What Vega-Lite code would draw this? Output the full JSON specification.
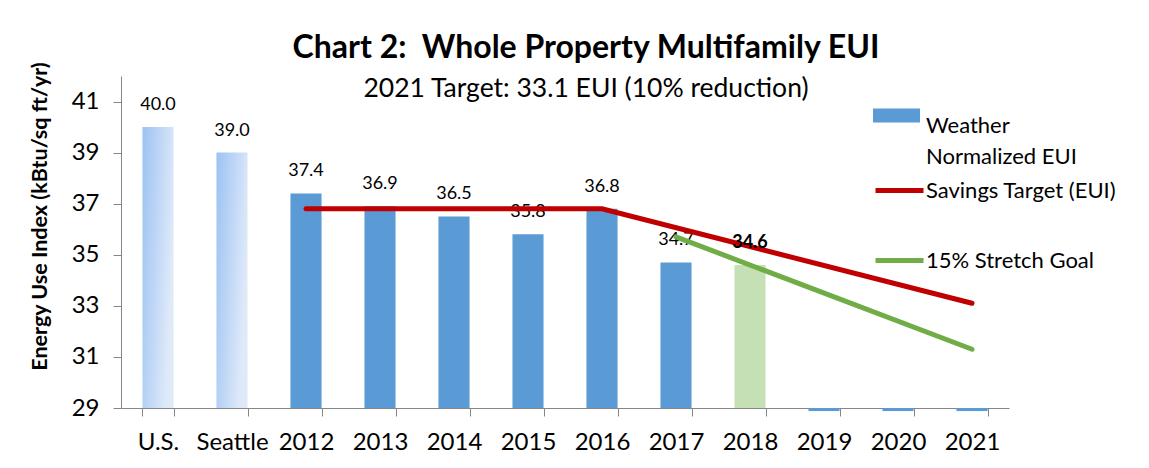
{
  "$schema": "https://vega.github.io/schema/vega-lite/v6.json",
  "autosize": {"type": "none"},
  "width": 888,
  "height": 332,
  "padding": {"left": 121, "top": 76, "right": 140, "bottom": 60},
  "background": "white",
  "title": {
    "text": "Chart 2:\u00a0 Whole Property Multifamily EUI",
    "subtitle": "2021 Target: 33.1 EUI (10% reduction)",
    "anchor": "middle",
    "dx": 21,
    "offset": -42,
    "font": "Lato",
    "fontSize": 32,
    "fontWeight": "bold",
    "color": "#000000",
    "subtitleFont": "Lato",
    "subtitleFontSize": 26.5,
    "subtitleColor": "#000000",
    "subtitlePadding": 11
  },
  "datasets": {
    "bars": [
      {"cat": "U.S.", "eui": 40.0, "kind": "bench"},
      {"cat": "Seattle", "eui": 39.0, "kind": "bench"},
      {"cat": "2012", "eui": 37.4, "kind": "year"},
      {"cat": "2013", "eui": 36.9, "kind": "year"},
      {"cat": "2014", "eui": 36.5, "kind": "year"},
      {"cat": "2015", "eui": 35.8, "kind": "year"},
      {"cat": "2016", "eui": 36.8, "kind": "year"},
      {"cat": "2017", "eui": 34.7, "kind": "year"},
      {"cat": "2018", "eui": 34.6, "kind": "latest"},
      {"cat": "2019", "eui": 28.88, "kind": "blank"},
      {"cat": "2020", "eui": 28.88, "kind": "blank"},
      {"cat": "2021", "eui": 28.88, "kind": "blank"}
    ],
    "lines": [
      {"cat": "2012", "v": 36.8, "series": "Savings Target (EUI)"},
      {"cat": "2016", "v": 36.8, "series": "Savings Target (EUI)"},
      {"cat": "2021", "v": 33.1, "series": "Savings Target (EUI)"},
      {"cat": "2017", "v": 35.7, "series": "15% Stretch Goal"},
      {"cat": "2021", "v": 31.3, "series": "15% Stretch Goal"}
    ]
  },
  "encoding": {
    "x": {
      "field": "cat",
      "type": "nominal",
      "sort": null,
      "scale": {"domain": ["U.S.", "Seattle", "2012", "2013", "2014", "2015", "2016", "2017", "2018", "2019", "2020", "2021"], "paddingInner": 0.58, "paddingOuter": 0.29},
      "axis": {
        "title": null,
        "labelAngle": 0,
        "labelFont": "Lato",
        "labelFontSize": 24,
        "labelColor": "#000000",
        "labelPadding": 14,
        "tickBand": "extent",
        "tickSize": 8,
        "tickColor": "#868686",
        "domainColor": "#868686",
        "grid": false
      }
    }
  },
  "layer": [
    {
      "data": {"name": "bars"},
      "transform": [{"filter": "datum.kind == 'bench'"}],
      "mark": {
        "type": "bar",
        "fill": {"gradient": "linear", "x1": 0, "y1": 0, "x2": 1, "y2": 0.4, "stops": [{"offset": 0, "color": "#9CC2F3"}, {"offset": 1, "color": "#DFEAF9"}]}
      },
      "encoding": {
        "y": {
          "field": "eui",
          "type": "quantitative",
          "scale": {"domain": [29, 42], "zero": false, "nice": false},
          "axis": {
            "title": "Energy Use Index (kBtu/sq ft/yr)",
            "titleFont": "Lato",
            "titleFontSize": 21.5,
            "titleFontWeight": "bold",
            "titleColor": "#000000",
            "titleX": -81,
            "titleY": 140,
            "titleAngle": -90,
            "titleAlign": "center",
            "titleBaseline": "middle",
            "values": [29, 31, 33, 35, 37, 39, 41],
            "labelFont": "Lato",
            "labelFontSize": 24,
            "labelColor": "#000000",
            "labelPadding": 14,
            "tickSize": 8,
            "tickColor": "#868686",
            "domainColor": "#868686",
            "grid": false
          }
        },
        "y2": {"datum": 29}
      }
    },
    {
      "data": {"name": "bars"},
      "transform": [{"filter": "datum.kind == 'year' || datum.kind == 'blank'"}],
      "mark": {"type": "bar"},
      "encoding": {
        "y": {"field": "eui", "type": "quantitative"},
        "y2": {"datum": 29},
        "fill": {
          "datum": "Weather Normalized EUI",
          "type": "nominal",
          "scale": {"range": ["#5B9BD5"]},
          "legend": {
            "orient": "none",
            "legendX": 752,
            "legendY": 16,
            "title": null,
            "symbolType": "M-1,-0.3H1V0.3H-1Z",
            "symbolSize": 2209,
            "symbolStrokeWidth": 0,
            "labelFont": "Lato",
            "labelFontSize": 22,
            "labelColor": "#000000",
            "labelBaseline": "top",
            "labelOffset": 6,
            "labelLimit": 300,
            "labelExpr": "datum.label == 'Weather Normalized EUI' ? ['Weather', 'Normalized EUI'] : datum.label"
          }
        }
      }
    },
    {
      "data": {"name": "bars"},
      "transform": [{"filter": "datum.kind == 'latest'"}],
      "mark": {"type": "bar", "color": "#C5E0B4"},
      "encoding": {
        "y": {"field": "eui", "type": "quantitative"},
        "y2": {"datum": 29}
      }
    },
    {
      "data": {"name": "bars"},
      "transform": [{"filter": "datum.kind == 'bench' || datum.kind == 'year'"}],
      "mark": {"type": "text", "font": "Lato", "fontSize": 18, "color": "#000000", "dy": -22, "baseline": "middle"},
      "encoding": {
        "y": {"field": "eui", "type": "quantitative"},
        "text": {"field": "eui", "type": "quantitative", "format": ".1f"}
      }
    },
    {
      "data": {"name": "lines"},
      "mark": {"type": "line", "strokeWidth": 5, "strokeCap": "round"},
      "encoding": {
        "y": {"field": "v", "type": "quantitative"},
        "stroke": {
          "field": "series",
          "type": "nominal",
          "scale": {"domain": ["Savings Target (EUI)", "15% Stretch Goal"], "range": ["#C00000", "#70AD47"]},
          "legend": {
            "orient": "none",
            "legendX": 752,
            "legendY": 88,
            "title": null,
            "symbolType": "stroke",
            "symbolSize": 2304,
            "symbolStrokeWidth": 5,
            "rowPadding": 32,
            "labelFont": "Lato",
            "labelFontSize": 22,
            "labelColor": "#000000",
            "labelOffset": 0,
            "labelLimit": 300
          }
        },
        "detail": {"field": "series"}
      }
    },
    {
      "data": {"name": "bars"},
      "transform": [{"filter": "datum.kind == 'latest'"}],
      "mark": {"type": "text", "font": "Lato", "fontSize": 18, "fontWeight": "bold", "color": "#000000", "dy": -22, "baseline": "middle"},
      "encoding": {
        "y": {"field": "eui", "type": "quantitative"},
        "text": {"field": "eui", "type": "quantitative", "format": ".1f"}
      }
    }
  ],
  "config": {
    "view": {"stroke": null},
    "style": {"guide-label": {"lineHeight": 31}}
  }
}
